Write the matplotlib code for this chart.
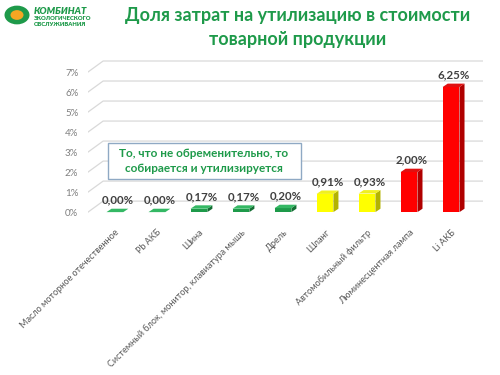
import matplotlib.pyplot as plt
from matplotlib.patches import Circle, FancyBboxPatch

plt.rcParams['font.family'] = ['Lato', 'DejaVu Sans']

# data
categories = ['Масло моторное отечественное', 'Pb АКБ', 'Шина',
              'Системный блок, монитор, клавиатура мышь', 'Дрель', 'Шланг',
              'Автомобильный фильтр', 'Люминесцентная лампа', 'Li АКБ']
values = [0.00, 0.00, 0.17, 0.17, 0.20, 0.91, 0.93, 2.00, 6.25]
labels = ['0,00%', '0,00%', '0,17%', '0,17%', '0,20%', '0,91%', '0,93%', '2,00%', '6,25%']
groups = ['g', 'g', 'g', 'g', 'g', 'y', 'y', 'r', 'r']
yticks = [0, 1, 2, 3, 4, 5, 6, 7]

# colours for front / side / top faces
palette = {
    'g': ('#1e9a4a', '#136e33', '#34b864'),
    'y': ('#ffff00', '#b3b300', '#f0f020'),
    'r': ('#ff0000', '#b00000', '#e01010'),
}

fig = plt.figure(figsize=(5, 3.75), dpi=100)
ax = fig.add_axes([0.176, 0.429, 0.79, 0.411])
xl, xr = -0.64, 8.76
ax.set_xlim(xl, xr)
ax.set_ylim(-0.1, 7.6)

# back-wall gridlines with oblique floor segment
bdx, bdy = 0.36, 0.55
for t in yticks:
    ax.plot([xl, xl + bdx, xr], [t, t + bdy, t + bdy], color='#d9d9d9', lw=0.9, zorder=1)

# 3d-looking bars
w, dx, dy = 0.40, 0.12, 0.17
for i, (v, g) in enumerate(zip(values, groups)):
    front, side, top = palette[g]
    ax.bar(i, v, width=w, color=front, zorder=3)
    x1 = i + w / 2
    x0 = i - w / 2
    ax.fill([x1, x1 + dx, x1 + dx, x1], [0, dy, v + dy, v], color=side, zorder=3, lw=0)
    ax.fill([x0, x0 + dx, x1 + dx, x1], [v, v + dy, v + dy, v], color=top, zorder=3, lw=0)
    ax.text(i + dx / 2, v + dy + 0.15, labels[i], ha='center', va='bottom',
            fontsize=8.3, fontweight='bold', color='#404040', zorder=4)

ax.set_yticks(yticks)
ax.set_yticklabels([f'{t}%' for t in yticks], fontsize=7, color='#7f7f7f')
ax.set_xticks(range(len(categories)))
ax.set_xticklabels(categories, rotation=45, ha='right', va='top',
                   rotation_mode='anchor', fontsize=6.5, color='#595959')
ax.tick_params(length=0)
ax.tick_params(axis='y', pad=7)
ax.tick_params(axis='x', pad=10)
for s in ax.spines.values():
    s.set_visible(False)

# annotation box
fig.patches.append(FancyBboxPatch((108 / 500, 1 - 179 / 375), 193 / 500, 36 / 375,
                                  boxstyle='square,pad=0', transform=fig.transFigure,
                                  facecolor='white', edgecolor='#8fa9c4', lw=1.0, zorder=5))
fig.text(204 / 500, 1 - 161 / 375, 'То, что не обременительно, то\nсобирается и утилизируется',
         ha='center', va='center', fontsize=8.5, fontweight='bold', color='#1e9a4a',
         linespacing=1.4, zorder=6)

# title
fig.text(298 / 500, 1 - 28 / 375, 'Доля затрат на утилизацию в стоимости\nтоварной продукции',
         ha='center', va='center', fontsize=13, fontweight='bold', color='#1e9a4a',
         linespacing=1.5)

# logo
fig.patches.append(Circle((17 / 500, 1 - 15 / 375), 12.5 / 500, transform=fig.transFigure,
                          facecolor='#1e9a4a', edgecolor='none'))
fig.patches.append(Circle((17 / 500, 1 - 15 / 375), 6.5 / 500, transform=fig.transFigure,
                          facecolor='#f5a623', edgecolor='none'))
fig.text(34 / 500, 1 - 11 / 375, 'КОМБИНАТ', fontsize=6.8, fontweight='heavy',
         style='italic', color='#1e9a4a', va='center')
fig.text(34 / 500, 1 - 21.5 / 375, 'ЭКОЛОГИЧЕСКОГО\nОБСЛУЖИВАНИЯ', fontsize=4.2,
         fontweight='heavy', color='#1e9a4a', va='center', linespacing=1.1)

fig.savefig('out.png', dpi=100)
